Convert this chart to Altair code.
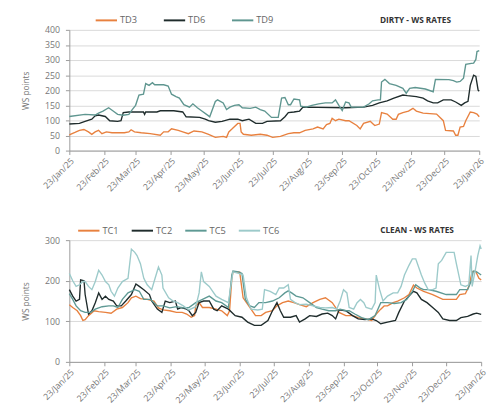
import altair as alt
import pandas as pd
from datetime import date, timedelta

BASE = date(2025, 1, 23)

# ---------------- DIRTY (days since 23 Jan 2025, WS points) ----------------
td3_days = [0,1,5,9,13,17,20,23,26,29,33,38,49,53,55,58,64,72,81,84,88,91,97,101,106,111,118,124,130,137,
            140,142,145,150,152,153,155,162,170,176,181,188,195,200,205,210,217,221,226,229,232,234,237,240,246,249,256,259,262,268,
            270,272,276,278,283,288,291,293,297,302,306,309,315,327,333,335,342,344,346,348,351,353,357,360,363,365]
td3_vals = [51,54,60,67,70,62,54,62,67,56,62,59,59,62,69,62,59,56,51,62,62,72,67,62,56,65,62,54,44,47,
            44,62,72,90,90,62,54,51,54,51,44,47,56,59,59,67,72,78,72,86,90,107,99,104,99,99,83,72,90,97,
            90,83,88,126,121,104,104,120,126,131,140,131,124,121,99,67,65,51,51,78,80,99,128,126,121,112]

td6_days = [0,9,14,20,23,26,32,36,43,46,48,53,66,67,68,78,81,93,101,104,116,121,124,130,136,143,150,154,160,166,
            172,176,188,192,195,200,205,208,246,262,270,276,283,289,297,301,309,315,319,324,328,333,340,344,349,352,355,357,360,362,364,365]
td6_vals = [88,90,97,104,115,118,113,99,97,99,126,128,128,120,128,128,132,132,128,112,110,104,99,94,97,104,104,99,104,90,
            90,97,99,112,126,128,131,144,142,144,150,158,165,174,184,182,179,174,165,158,158,168,168,161,150,158,163,216,250,246,200,197]

td9_days = [0,14,23,26,30,35,39,43,48,53,56,59,62,66,68,71,74,76,84,88,91,95,98,102,107,110,114,118,124,125,
            130,132,137,140,143,147,151,154,161,166,170,174,180,186,189,192,195,197,200,205,206,211,216,222,228,234,237,240,243,246,
            249,251,262,267,270,275,277,278,281,285,291,297,300,303,308,317,324,326,338,342,345,348,351,353,358,360,362,363,365]
td9_vals = [113,120,118,124,131,142,131,120,117,120,136,150,184,187,222,216,225,218,218,214,187,179,174,152,144,155,142,131,115,112,
            163,168,158,136,144,150,152,142,140,144,136,131,110,110,174,176,152,152,171,168,147,144,150,155,158,158,168,150,133,161,
            158,144,144,155,165,168,168,227,236,222,216,206,190,206,209,204,195,236,235,232,227,229,240,286,289,290,302,328,331]

# ---------------- CLEAN ----------------
tc1_days = [0,3,7,10,12,14,17,22,26,32,37,42,47,52,55,59,63,69,75,79,83,89,95,100,104,108,111,112,115,118,
            124,130,135,140,142,144,145,151,154,157,161,165,170,174,180,184,189,194,199,204,210,216,222,227,233,239,245,251,256,262,
            268,272,276,279,282,287,291,297,301,305,308,314,322,331,343,346,351,354,357,360,363,365]
tc1_vals = [141,134,126,114,102,104,114,126,124,122,120,130,134,146,158,162,156,154,150,133,128,126,122,122,118,110,114,138,146,134,
            134,130,126,114,126,206,222,221,158,146,130,114,114,122,126,138,146,150,146,141,136,146,154,158,146,122,114,114,109,106,
            102,118,130,138,138,146,150,158,166,189,182,174,166,154,154,166,168,186,222,224,206,202]

tc2_days = [0,3,6,9,10,13,14,17,20,23,26,29,32,35,39,42,46,50,55,59,62,66,71,73,78,82,85,89,94,96,
            99,104,106,109,112,115,119,124,128,131,135,141,147,153,158,164,170,176,180,184,187,190,196,201,204,209,213,219,224,229,
            233,236,239,245,251,256,262,268,272,276,282,289,292,297,301,305,308,312,317,322,327,331,337,343,347,353,358,361,365]
tc2_vals = [178,162,150,154,202,200,166,118,126,146,170,154,162,154,150,138,138,150,166,192,186,178,166,150,130,122,150,146,150,130,
            134,130,126,114,122,146,150,150,130,126,138,130,114,110,98,90,90,102,126,146,126,110,110,114,98,106,114,112,118,120,
            114,106,128,126,114,106,104,106,102,94,98,102,122,150,162,174,170,154,146,134,122,106,102,102,109,112,118,120,117]

tc5_days = [0,3,6,10,14,19,23,29,35,39,43,47,52,58,62,66,72,78,83,89,95,101,106,112,118,124,130,135,141,144,
            145,150,153,156,160,164,168,174,180,186,191,194,197,201,207,213,219,224,230,236,240,245,248,253,259,265,271,276,282,288,
            294,299,304,307,311,314,318,325,334,343,346,353,356,358,361,365]
tc5_vals = [168,154,138,126,122,122,130,136,138,138,134,154,170,178,174,154,154,138,138,133,136,133,134,146,154,162,150,146,134,214,
            224,222,218,154,138,134,146,146,150,158,170,175,170,162,158,146,134,130,126,126,130,126,126,118,109,104,114,146,146,144,
            146,154,174,190,182,178,178,174,166,166,178,178,198,224,222,214]

tc6_days = [0,3,6,9,12,14,17,20,23,26,29,32,35,37,40,43,47,52,55,58,60,63,66,69,73,76,79,82,83,88,
            92,96,101,106,112,115,117,119,124,130,135,141,145,150,154,157,161,167,171,173,178,183,186,190,194,196,200,204,210,216,
            222,227,233,237,240,243,246,248,252,255,258,261,263,268,271,272,275,278,282,287,291,294,297,301,304,307,310,312,315,318,
            322,325,327,330,334,341,343,347,351,354,356,357,360,362,364,365]
tc6_vals = [218,200,186,190,198,198,186,178,198,226,214,198,190,174,162,182,198,206,278,270,262,242,206,190,178,206,234,214,182,158,
            150,146,138,128,136,170,222,198,186,162,154,146,222,218,214,158,130,128,130,178,174,166,182,182,190,154,146,141,142,138,
            134,133,134,130,150,178,170,134,130,146,154,146,134,130,146,214,178,150,162,170,170,186,214,238,254,254,230,214,194,178,
            178,182,242,250,270,270,242,190,186,190,262,186,230,262,286,278]

dirty_names = ["TD3", "TD6", "TD9"]
dirty_colors = ["#E8813F", "#1F2C2C", "#5F9690"]
clean_names = ["TC1", "TC2", "TC5", "TC6"]
clean_colors = ["#E8813F", "#1F2C2C", "#5E9994", "#9CCACA"]

FONT = "Open Sans"


def frame(series):
    rows = []
    for name, days, vals in series:
        for d, v in zip(days, vals):
            rows.append({"date": (BASE + timedelta(days=d)).isoformat() + "T00:00:00",
                         "value": v, "series": name})
    return pd.DataFrame(rows)


tick_dates = [alt.DateTime(year=2025 + (m // 12), month=(m % 12) + 1, date=23) for m in range(0, 13)]
x_domain = [tick_dates[0], tick_dates[-1]]


def panel(df, names, colors, ymax, ystep, title, W, H, legx, colpad, title_dx):
    lines = alt.Chart(df).mark_line(strokeWidth=1.4).encode(
        x=alt.X("date:T",
                scale=alt.Scale(domain=x_domain, nice=False),
                axis=alt.Axis(values=tick_dates, format="%d/%b/%y", labelAngle=-45, title=None,
                              grid=False, tickSize=4, labelPadding=2, labelFontSize=9,
                              labelColor="#777", labelFont=FONT, domainColor="#9a9a9a",
                              tickColor="#9a9a9a", labelOverlap=False, labelFlush=False)),
        y=alt.Y("value:Q",
                scale=alt.Scale(domain=[0, ymax], nice=False),
                axis=alt.Axis(values=list(range(0, ymax + 1, ystep)), title="WS points",
                              grid=True, gridColor="#d9d9d9", tickSize=4, labelPadding=6,
                              labelFontSize=9, labelColor="#777", labelFont=FONT,
                              titleFont=FONT, titleFontSize=8.5, titleFontWeight="normal",
                              titleColor="#777", titlePadding=15,
                              domainColor="#9a9a9a", tickColor="#9a9a9a")),
        color=alt.Color("series:N",
                        scale=alt.Scale(domain=names, range=colors),
                        legend=alt.Legend(orient="none", legendX=legx, legendY=-22,
                                          direction="horizontal", title=None,
                                          symbolType="stroke", symbolSize=480,
                                          symbolStrokeWidth=2, labelOffset=2,
                                          columnPadding=colpad, padding=0,
                                          labelFontSize=9.5, labelColor="#666",
                                          labelFont=FONT)),
    )
    ttl = alt.Chart(pd.DataFrame({"t": [title]})).mark_text(
        align="right", baseline="middle", fontWeight="bold", fontSize=8.5,
        color="#333333", font=FONT
    ).encode(text="t:N", x=alt.value(W - title_dx), y=alt.value(-10))
    return alt.layer(lines, ttl).properties(width=W, height=H)


dirty = panel(frame([("TD3", td3_days, td3_vals), ("TD6", td6_days, td6_vals),
                     ("TD9", td9_days, td9_vals)]),
              dirty_names, dirty_colors, 400, 50, "DIRTY - WS RATES", 421, 124, 26, 23, 29)
clean = panel(frame([("TC1", tc1_days, tc1_vals), ("TC2", tc2_days, tc2_vals),
                     ("TC5", tc5_days, tc5_vals), ("TC6", tc6_days, tc6_vals)]),
              clean_names, clean_colors, 300, 100, "CLEAN - WS RATES", 423, 125, 8, 9, 28)

chart = alt.vconcat(dirty, clean, spacing=25).resolve_scale(color="independent").configure_view(
    stroke=None).properties(padding={"left": 13, "top": -5, "right": 0, "bottom": 0},
                            background="white")

chart.save("out.html", embed_options={"renderer": "svg", "actions": False})
